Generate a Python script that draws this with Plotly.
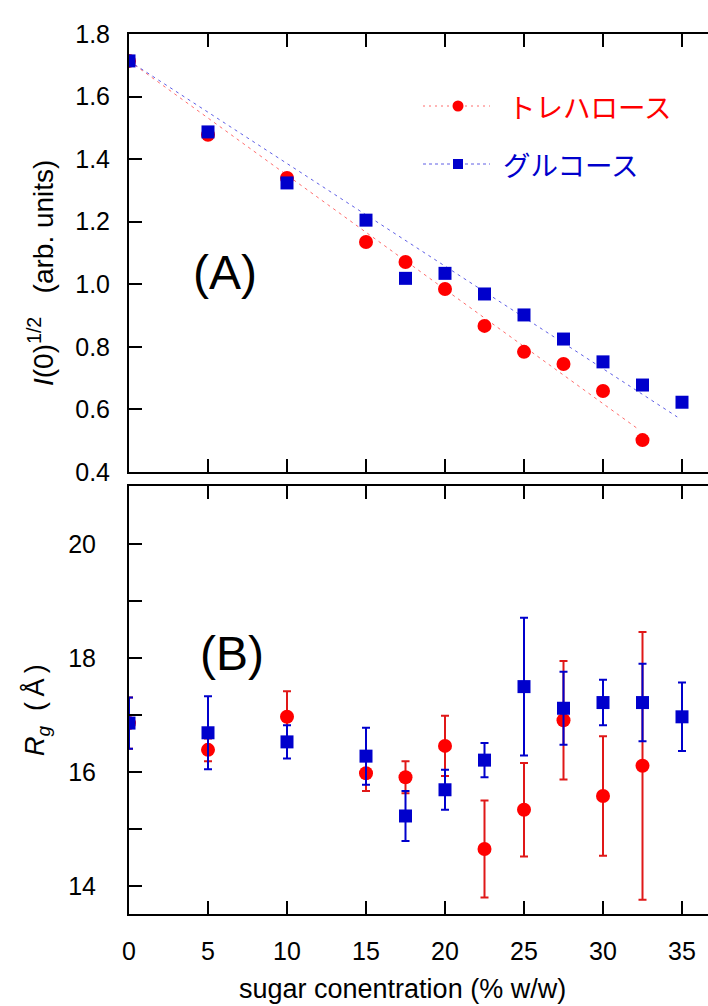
import plotly.graph_objects as go

# ---- data -------------------------------------------------------------
conc = [0, 5, 10, 15, 17.5, 20, 22.5, 25, 27.5, 30, 32.5, 35]

# (A) square root of forward scattering intensity
i0_tre = [1.714, 1.478, 1.340, 1.135, 1.071, 0.985, 0.867, 0.784, 0.745, 0.659, 0.502]
i0_glu = [1.714, 1.487, 1.324, 1.205, 1.019, 1.035, 0.969, 0.902, 0.825, 0.752, 0.678, 0.623]

# straight-line fits (end points)
fit_x_tre = [0, 32.15]
fit_y_tre = [1.714, 0.540]
fit_x_glu = [0, 34.7]
fit_y_glu = [1.714, 0.576]

# (B) radius of gyration with error
rg_tre = [16.86, 16.39, 16.97, 15.98, 15.91, 16.46, 14.65, 15.34, 16.91, 15.58, 16.11]
rg_tre_err = [0.45, 0.20, 0.45, 0.31, 0.28, 0.53, 0.85, 0.82, 1.04, 1.05, 2.35]
rg_glu = [16.86, 16.69, 16.53, 16.28, 15.23, 15.69, 16.21, 17.50, 17.12, 17.22, 17.22, 16.97]
rg_glu_err = [0.45, 0.64, 0.29, 0.50, 0.44, 0.35, 0.30, 1.21, 0.64, 0.40, 0.68, 0.60]

name_tre = "トレハロース"
name_glu = "グルコース"

x_ticks = [0, 5, 10, 15, 20, 25, 30, 35]
yA_ticks = [0.4, 0.6, 0.8, 1.0, 1.2, 1.4, 1.6, 1.8]
yB_ticks = [14, 16, 18, 20]
yB_minor = [15, 17, 19]

# ---- styling ----------------------------------------------------------
W, H = 708, 1006
RED = "#ff0000"
RED_ERR = "#e01818"
BLUE = "#0000cc"
FONT = "Liberation Sans, Arial, Helvetica, sans-serif"
JFONT = "Noto Sans CJK JP, sans-serif"
NB = "\u00a0"


def px(x):
    return x / W


def py(y):
    return 1 - y / H


x_dom = [px(129), 1.0]
yA_dom = [py(472), py(34)]
yB_dom = [py(914), py(486)]
x_range = [0, (708 - 129) / 15.8]
yA_range = [0.4, 1.8]
yB_range = [13.51, 21.02]

fig = go.Figure()

# panel A: fit lines
fig.add_trace(go.Scatter(x=fit_x_tre, y=fit_y_tre, mode="lines", xaxis="x", yaxis="y",
                         line=dict(color="rgba(255,60,60,0.75)", width=1, dash="3px,4px"),
                         showlegend=False, hoverinfo="skip"))
fig.add_trace(go.Scatter(x=fit_x_glu, y=fit_y_glu, mode="lines", xaxis="x", yaxis="y",
                         line=dict(color="rgba(40,40,220,0.75)", width=1, dash="3px,4px"),
                         showlegend=False, hoverinfo="skip"))
# panel A: points
fig.add_trace(go.Scatter(x=conc[:len(i0_tre)], y=i0_tre, mode="markers", xaxis="x", yaxis="y",
                         marker=dict(symbol="circle", size=14, color=RED),
                         name=name_tre, showlegend=False))
fig.add_trace(go.Scatter(x=conc, y=i0_glu, mode="markers", xaxis="x", yaxis="y",
                         marker=dict(symbol="square", size=13, color=BLUE),
                         name=name_glu, showlegend=False))

# panel B: Rg with error bars
fig.add_trace(go.Scatter(x=conc[:len(rg_tre)], y=rg_tre, mode="markers", xaxis="x2", yaxis="y2",
                         marker=dict(symbol="circle", size=14, color=RED),
                         error_y=dict(type="data", array=rg_tre_err, color=RED_ERR,
                                      thickness=2, width=4),
                         name=name_tre, showlegend=False))
fig.add_trace(go.Scatter(x=conc, y=rg_glu, mode="markers", xaxis="x2", yaxis="y2",
                         marker=dict(symbol="square", size=13, color=BLUE),
                         error_y=dict(type="data", array=rg_glu_err, color=BLUE,
                                      thickness=2, width=4),
                         name=name_glu, showlegend=False))

tickfont = dict(family=FONT, size=25, color="black")
common_x = dict(range=x_range, tickvals=x_ticks, ticks="inside", ticklen=13, tickwidth=2,
                tickcolor="black", showline=True, linewidth=2, linecolor="black",
                mirror="ticks", showgrid=False, zeroline=False, tickfont=tickfont,
                domain=x_dom, automargin=False)
common_y = dict(ticks="inside", ticklen=13, tickwidth=2, tickcolor="black", showline=True,
                linewidth=2, linecolor="black", showgrid=False, zeroline=False,
                tickfont=tickfont, automargin=False)
right_y = dict(side="right", ticks="inside", ticklen=6, tickwidth=2, tickcolor="black",
               showticklabels=False, showline=False, showgrid=False, zeroline=False,
               automargin=False)

fig.update_layout(
    template="none",
    width=W, height=H,
    margin=dict(l=0, r=0, t=0, b=0, autoexpand=False),
    paper_bgcolor="white", plot_bgcolor="white",
    showlegend=False,
    xaxis=dict(common_x, anchor="y", showticklabels=False),
    yaxis=dict(common_y, domain=yA_dom, anchor="x", range=yA_range, tickvals=yA_ticks,
               tickformat=".1f", ticklabelstandoff=12),
    xaxis2=dict(common_x, anchor="y2", ticklabelstandoff=14),
    yaxis2=dict(common_y, domain=yB_dom, anchor="x2", range=yB_range, tickvals=yB_ticks,
                ticklabelstandoff=26,
                minor=dict(tickvals=yB_minor, ticks="inside", ticklen=13, tickwidth=2,
                           tickcolor="black", showgrid=False)),
    # short tick marks along the right-hand frame
    yaxis3=dict(right_y, overlaying="y", anchor="x", range=yA_range, tickvals=yA_ticks),
    yaxis4=dict(right_y, overlaying="y2", anchor="x2", range=yB_range,
                tickvals=yB_ticks + yB_minor),
)

# legend keys drawn in panel A
shapes = [
    dict(type="line", xref="paper", yref="paper", x0=px(423), x1=px(490), y0=py(106), y1=py(106),
         line=dict(color="rgba(255,60,60,0.75)", width=1, dash="2px,4px")),
    dict(type="circle", xref="paper", yref="paper", x0=px(452.5), x1=px(463.5),
         y0=py(111.5), y1=py(100.5), fillcolor=RED, line=dict(width=0)),
    dict(type="line", xref="paper", yref="paper", x0=px(423), x1=px(490), y0=py(164), y1=py(164),
         line=dict(color="rgba(40,40,220,0.75)", width=1, dash="3px,3px")),
    dict(type="rect", xref="paper", yref="paper", x0=px(453), x1=px(463),
         y0=py(169), y1=py(159), fillcolor=BLUE, line=dict(width=0)),
]
fig.update_layout(shapes=shapes)

annotations = [
    dict(text=name_tre, x=px(506), y=py(106), xanchor="left", yanchor="middle",
         font=dict(family=JFONT, size=27.5, color=RED)),
    dict(text=name_glu, x=px(501), y=py(164), xanchor="left", yanchor="middle",
         font=dict(family=JFONT, size=27.5, color=BLUE)),
    dict(text="(A)", x=px(225), y=py(272), xanchor="center", yanchor="middle",
         font=dict(family=FONT, size=48, color="black")),
    dict(text="(B)", x=px(232), y=py(653), xanchor="center", yanchor="middle",
         font=dict(family=FONT, size=48, color="black")),
    dict(text="<i>I</i>(0)<sup>1/2</sup>" + NB * 3 + "(arb. units)", x=px(41), y=py(273),
         xanchor="center", yanchor="middle", textangle=-90,
         font=dict(family=FONT, size=28, color="black")),
    dict(text="<i>R</i><sub><i>g</i></sub>" + NB * 2 + "(\u2009Å\u2009)", x=px(36), y=py(710),
         xanchor="center", yanchor="middle", textangle=-90,
         font=dict(family=FONT, size=27, color="black")),
    dict(text="sugar conentration (% w/w)", x=px(402), y=py(1005), borderpad=0,
         xanchor="center", yanchor="bottom",
         font=dict(family=FONT, size=27, color="black")),
]
for a in annotations:
    a.update(xref="paper", yref="paper", showarrow=False)
fig.update_layout(annotations=annotations)

fig.write_html("out.html")
